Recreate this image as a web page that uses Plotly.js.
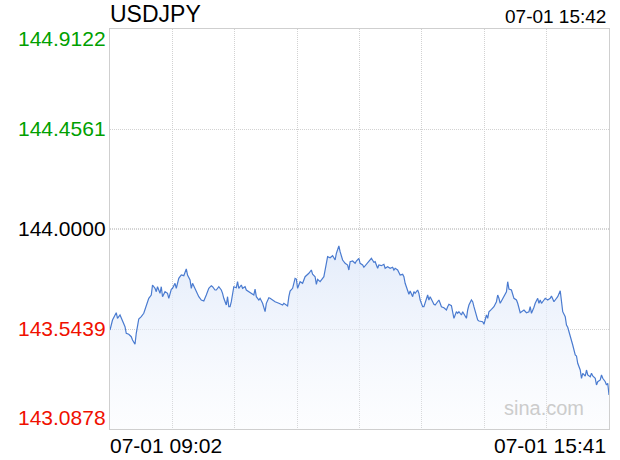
<!DOCTYPE html>
<html>
<head>
<meta charset="utf-8">
<script src="https://cdn.plot.ly/plotly-3.0.1.min.js"></script>
<style>
html,body{margin:0;padding:0;background:#fff;}
#chart{width:620px;height:460px;}
</style>
</head>
<body>
<div id="chart"></div>
<script>
// ---- data ----
const symbol = "USDJPY";
const lastTimeLabel = "07-01 15:42";
const xStartLabel = "07-01 09:02";
const xEndLabel = "07-01 15:41";
const prevClose = 144.0000;
const yTickValues = [144.9122, 144.4561, 144.0000, 143.5439, 143.0878];
const yTickLabels = ["144.9122", "144.4561", "144.0000", "143.5439", "143.0878"];
const sessionMinutes = 399; // 09:02 -> 15:41

// minutes after 09:02
const minuteOffset = [
  0,2,5,6,8,10,12,13,15,17,18,20,21,23,25,27,29,31,33,34,36,37,38,40,41,42,44,46,47,49,
  50,52,53,55,57,59,61,62,64,65,66,68,69,71,73,75,77,79,81,82,84,85,87,89,90,91,93,94,95,96,
  97,99,101,102,103,105,106,108,109,111,113,115,116,117,119,120,122,124,125,127,128,130,132,135,138,139,142,143,144,146,
  148,149,150,152,154,156,158,159,161,162,164,165,166,168,170,171,173,174,176,178,179,180,181,183,184,186,188,190,191,192,
  194,196,197,199,200,202,203,205,207,209,211,212,214,215,217,219,220,222,224,226,227,228,230,231,232,234,235,236,238,239,
  240,242,243,244,246,247,248,250,251,252,254,255,256,258,259,260,262,263,264,265,267,269,270,271,273,274,275,277,278,279,
  281,282,283,285,286,287,289,290,291,293,294,295,297,298,299,301,302,303,305,306,307,309,310,311,312,313,315,317,318,319,
  321,322,323,325,326,328,329,331,333,335,336,337,339,340,342,343,344,345,347,348,350,352,353,355,356,358,360,361,362,364,
  365,366,368,369,370,372,373,374,376,377,378,380,381,382,384,385,386,388,389,390,392,393,394,396,397,398,399
];
const price = [
  143.5393,143.5849,143.6182,143.5927,143.6078,143.5772,143.5544,143.5243,143.5197,143.5088,143.4937,143.4741,143.5243,143.5895,143.6000,143.6155,143.6534,143.6839,143.6990,143.7446,143.7295,143.7140,143.7368,143.7067,143.7368,143.6912,143.7140,143.7067,143.6839,143.7250,
  143.7295,143.7523,143.7295,143.7751,143.7902,143.7870,143.8176,143.7902,143.7674,143.7295,143.7523,143.7295,143.7140,143.6912,143.6762,143.6716,143.6990,143.7295,143.7414,143.7368,143.7218,143.7218,143.7368,143.7218,143.7067,143.6839,143.6534,143.6912,143.6456,143.6456,
  143.6684,143.7368,143.7323,143.7596,143.7295,143.7446,143.7295,143.7368,143.7218,143.7140,143.7067,143.6990,143.7263,143.6912,143.6762,143.6839,143.6611,143.6228,143.6611,143.6867,143.6839,143.6762,143.6684,143.6611,143.6534,143.6611,143.6488,143.6912,143.7172,143.7295,
  143.7751,143.7719,143.7295,143.7596,143.7523,143.7824,143.7902,143.7979,143.8130,143.7934,143.7824,143.7478,143.7706,143.7596,143.7751,143.7824,143.8436,143.8737,143.8691,143.8782,143.8691,143.8586,143.8892,143.9225,143.8965,143.8586,143.8436,143.8358,143.8130,143.8509,
  143.8540,143.8436,143.8540,143.8664,143.8436,143.8358,143.8253,143.8390,143.8540,143.8664,143.8481,143.8509,143.8208,143.8358,143.8326,143.8390,143.8208,143.8281,143.8208,143.8253,143.8130,143.8208,143.8130,143.7979,143.7902,143.7934,143.7824,143.7523,143.7140,143.7022,
  143.7172,143.6912,143.7140,143.7067,143.7218,143.7067,143.6762,143.6456,143.6456,143.6611,143.6990,143.6762,143.6912,143.6684,143.6566,143.6534,143.6684,143.6762,143.6611,143.6456,143.6411,143.6306,143.6456,143.6566,143.6502,143.6228,143.5927,143.6228,143.6155,143.6228,
  143.6078,143.6228,143.6109,143.5927,143.6306,143.6534,143.6762,143.6684,143.6456,143.6078,143.5849,143.5804,143.5804,143.5772,143.5653,143.6078,143.5927,143.6228,143.6337,143.6383,143.6456,143.6684,143.6990,143.6839,143.6611,143.6716,143.6912,143.7140,143.7596,143.7263,
  143.7218,143.6990,143.6839,143.6762,143.6611,143.6182,143.6228,143.6306,143.6182,143.6228,143.6456,143.6155,143.6429,143.6611,143.6839,143.6611,143.6762,143.6611,143.6762,143.6839,143.6762,143.6839,143.6944,143.6684,143.6762,143.6912,143.7186,143.6762,143.6228,143.6000,
  143.5621,143.5516,143.5165,143.4937,143.4709,143.4253,143.4208,143.3874,143.3569,143.3190,143.3419,143.3295,143.3569,143.3341,143.3263,143.3419,143.3295,143.3190,143.2885,143.3035,143.3113,143.3341,143.3190,143.3035,143.2885,143.2962,143.2429
];

// ---- styling ----
const FONT = "Liberation Sans, Arial, Helvetica, sans-serif";
const upColor = "#00a000", downColor = "#f01000", flatColor = "#000000";
const yMin = yTickValues[yTickValues.length - 1], yMax = yTickValues[0];

const lineTrace = {
  x: minuteOffset, y: price, type: "scatter", mode: "lines",
  line: {color: "#4a7bd0", width: 1.2},
  fill: "tozeroy",
  fillgradient: {
    type: "vertical", start: yMin, stop: 143.93,
    colorscale: [[0, "rgba(238,243,252,0.15)"], [1, "rgba(226,235,250,0.95)"]]
  },
  hoverinfo: "skip"
};

const annotations = [];
yTickValues.forEach((v, i) => {
  const color = Math.abs(v - prevClose) < 1e-9 ? flatColor : (v > prevClose ? upColor : downColor);
  const last = yTickValues.length - 1;
  const anchor = i === 0 ? "top" : (i === last ? "bottom" : "middle");
  annotations.push({
    xref: "paper", yref: "y", x: 0, y: v, xanchor: "right", yanchor: anchor,
    xshift: -2, yshift: i === 0 ? 4 : (i === last ? -2 : 1),
    text: yTickLabels[i], showarrow: false,
    font: {family: FONT, size: 21, color: color}
  });
});
annotations.push({xref: "paper", yref: "paper", x: 0, y: 1, xanchor: "left", yanchor: "bottom",
  xshift: -2, yshift: 0, text: symbol, showarrow: false, font: {family: FONT, size: 23, color: "#000"}});
annotations.push({xref: "paper", yref: "paper", x: 1, y: 1, xanchor: "right", yanchor: "bottom",
  xshift: -1, yshift: 0, text: lastTimeLabel, showarrow: false, font: {family: FONT, size: 19, color: "#000"}});
annotations.push({xref: "paper", yref: "paper", x: 0, y: 0, xanchor: "left", yanchor: "top",
  xshift: -2, yshift: -3, text: xStartLabel, showarrow: false, font: {family: FONT, size: 21, color: "#000"}});
annotations.push({xref: "paper", yref: "paper", x: 1, y: 0, xanchor: "right", yanchor: "top",
  xshift: -1, yshift: -3, text: xEndLabel, showarrow: false, font: {family: FONT, size: 21, color: "#000"}});
annotations.push({xref: "paper", yref: "paper", x: 0.953, y: 0.02, xanchor: "right", yanchor: "bottom",
  text: "sina.com", showarrow: false, font: {family: FONT, size: 20, color: "#cccccc"}});

const xGrid = [];
for (let k = 1; k < 8; k++) xGrid.push(k * sessionMinutes / 8);

const layout = {
  width: 620, height: 460,
  margin: {l: 110, r: 11, t: 29, b: 31, pad: 0},
  paper_bgcolor: "#fff", plot_bgcolor: "#fff",
  showlegend: false,
  xaxis: {
    range: [0, sessionMinutes], tickvals: xGrid, showticklabels: false, ticks: "",
    showgrid: true, gridcolor: "#d2d2d2", griddash: "1px,1px", gridwidth: 1,
    zeroline: false, showline: true, mirror: true, linecolor: "#cfcfcf", linewidth: 1, fixedrange: true
  },
  yaxis: {
    range: [yMin, yMax], tickvals: yTickValues, showticklabels: false, ticks: "",
    showgrid: true, gridcolor: "#d2d2d2", griddash: "1px,1px", gridwidth: 1,
    zeroline: false, showline: true, mirror: true, linecolor: "#cfcfcf", linewidth: 1, fixedrange: true
  },
  shapes: [{type: "line", xref: "paper", yref: "y", x0: 0, x1: 1, y0: prevClose, y1: prevClose,
    line: {color: "#a8a8a8", width: 1, dash: "1px,1px"}, layer: "below"}],
  annotations: annotations
};

Plotly.newPlot("chart", [lineTrace], layout, {staticPlot: true, displayModeBar: false});
</script>
</body>
</html>
